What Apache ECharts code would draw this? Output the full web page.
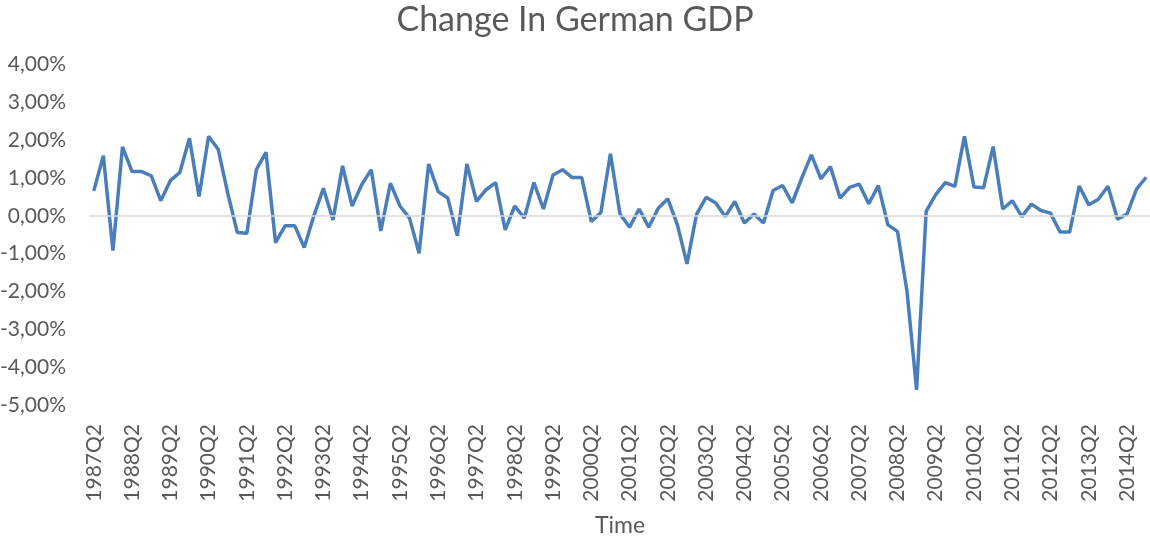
<!DOCTYPE html>
<html>
<head>
<meta charset="utf-8">
<script src="https://cdn.jsdelivr.net/npm/echarts@6/dist/echarts.min.js"></script>
<style>
  html, body { margin: 0; padding: 0; background: #fff; }
  #main { width: 1150px; height: 536px; }
</style>
</head>
<body>
<div id="main"></div>
<script>
// quarterly change in German GDP, 1987Q2 - 2014Q4 (in %)
const firstYear = 1987;
const firstQuarter = 2;
const gdpChange = [
  0.66, 1.59, -0.92, 1.82, 1.17, 1.17, 1.06, 0.40, 0.93, 1.15,
  2.05, 0.51, 2.10, 1.76, 0.60, -0.44, -0.46, 1.23, 1.68, -0.71,
  -0.26, -0.26, -0.84, 0.00, 0.73, -0.11, 1.32, 0.26, 0.82, 1.22,
  -0.40, 0.86, 0.26, -0.06, -0.99, 1.37, 0.64, 0.47, -0.53, 1.37,
  0.38, 0.69, 0.88, -0.37, 0.26, -0.06, 0.88, 0.18, 1.08, 1.22,
  1.01, 1.01, -0.15, 0.09, 1.64, 0.05, -0.30, 0.18, -0.30, 0.20,
  0.45, -0.24, -1.27, 0.04, 0.49, 0.34, -0.02, 0.38, -0.19, 0.05,
  -0.19, 0.67, 0.80, 0.34, 1.00, 1.61, 0.98, 1.30, 0.47, 0.75,
  0.84, 0.32, 0.80, -0.24, -0.41, -2.00, -4.60, 0.12, 0.56, 0.88,
  0.78, 2.10, 0.76, 0.74, 1.83, 0.18, 0.40, -0.02, 0.31, 0.14,
  0.07, -0.43, -0.43, 0.79, 0.29, 0.44, 0.78, -0.09, 0.05, 0.71,
  1.02
];

// category labels like "1987Q2"
const quarters = [];
for (let i = 0; i < gdpChange.length; i++) {
  const q = firstQuarter - 1 + i;
  quarters.push((firstYear + Math.floor(q / 4)) + 'Q' + (q % 4 + 1));
}

const textColor = '#595959';
const fontFamily = 'Lato, "Open Sans", sans-serif';

const myChart = echarts.init(document.getElementById('main'));

const option = {
  animation: false,
  title: {
    text: 'Change In German GDP',
    left: 'center',
    top: -2,
    textStyle: { color: textColor, fontSize: 34, fontWeight: 'normal', fontFamily }
  },
  // fixed plot area, labels may sit outside it
  grid: { left: 89, top: 64.5, width: 1062, height: 340.5, containLabel: false, outerBoundsMode: 'none' },
  xAxis: {
    type: 'category',
    data: quarters,
    boundaryGap: true,
    name: 'Time',
    nameLocation: 'middle',
    nameGap: 109,
    nameTextStyle: { color: textColor, fontSize: 23, fontFamily },
    axisLine: { show: false },
    axisTick: { show: false },
    axisLabel: {
      interval: 3,
      rotate: 90,
      margin: 19,
      color: textColor,
      fontSize: 21,
      fontFamily
    }
  },
  yAxis: {
    type: 'value',
    min: -5,
    max: 4,
    interval: 1,
    axisLine: { show: false },
    axisTick: { show: false },
    splitLine: { show: false },
    axisLabel: {
      margin: 23,
      color: textColor,
      fontSize: 21,
      fontFamily,
      formatter: v => v.toFixed(2).replace('.', ',') + '%'
    }
  },
  series: [
    {
      name: 'GDP change',
      type: 'line',
      data: gdpChange,
      symbol: 'none',
      lineStyle: { color: '#4a7ebb', width: 3.5 },
      markLine: {
        silent: true,
        symbol: 'none',
        label: { show: false },
        lineStyle: { color: '#d9d9d9', width: 1.5, type: 'solid' },
        data: [{ yAxis: 0 }]
      },
      z: 3
    }
  ]
};

myChart.setOption(option);
</script>
</body>
</html>
